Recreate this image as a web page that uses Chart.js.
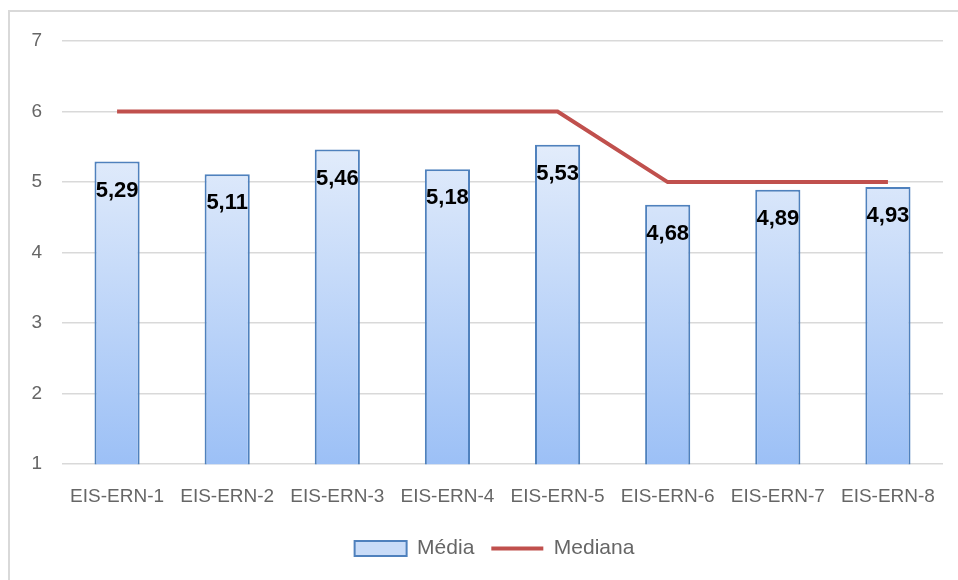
<!DOCTYPE html>
<html>
<head>
<meta charset="utf-8">
<script src="https://cdn.jsdelivr.net/npm/chart.js@4/dist/chart.umd.min.js"></script>
<style>
  body { margin: 0; background: #fff; }
  #frame { position: absolute; left: 8px; top: 10px; width: 960px; height: 580px;
           border-left: 2px solid #d9d9d9; border-top: 2px solid #d9d9d9; }
  #wrap { position: absolute; left: 0; top: 0; width: 958px; height: 580px; }
</style>
</head>
<body>
<div id="frame"></div>
<div id="wrap"><canvas id="mediaChart" width="958" height="580"></canvas></div>
<script>
const categories = ["EIS-ERN-1", "EIS-ERN-2", "EIS-ERN-3", "EIS-ERN-4", "EIS-ERN-5", "EIS-ERN-6", "EIS-ERN-7", "EIS-ERN-8"];
const media = [5.29, 5.11, 5.46, 5.18, 5.53, 4.68, 4.89, 4.93];
const mediana = [6, 6, 6, 6, 6, 5, 5, 5];
const yTicks = [1, 2, 3, 4, 5, 6, 7];

const FONT = "'Liberation Sans', Arial, sans-serif";

// bar fill: light on top, deeper blue at the base
function barGradient(context) {
    const chart = context.chart;
    const area = chart.chartArea;
    if (!area) return '#c6dbf8';
    const y = chart.scales.y;
    const g = chart.ctx.createLinearGradient(0, y.getPixelForValue(5.5), 0, area.bottom);
    g.addColorStop(0, '#e2ecfb');
    g.addColorStop(1, '#9cc0f6');
    return g;
}

// value labels inside the top of each bar, comma decimals
const barLabels = {
    id: 'barLabels',
    afterDatasetsDraw(chart) {
        const ctx = chart.ctx;
        const meta = chart.getDatasetMeta(0);
        ctx.save();
        ctx.font = "bold 22px " + FONT;
        ctx.fillStyle = '#000';
        ctx.textAlign = 'center';
        ctx.textBaseline = 'middle';
        meta.data.forEach((bar, i) => {
            ctx.fillText(media[i].toFixed(2).replace('.', ','), bar.x, bar.y + 29);
        });
        ctx.restore();
    }
};

// legend sits a bit right of the plot centre in the original
const legendShift = {
    id: 'legendShift',
    afterLayout(chart) {
        chart.legend.left += 23;
        chart.legend.right += 23;
    }
};

const ctx = document.getElementById('mediaChart').getContext('2d');
const mediaChart = new Chart(ctx, {
    type: 'bar',
    data: {
        labels: categories,
        datasets: [{
            label: 'Média',
            data: media,
            backgroundColor: barGradient,
            borderColor: '#4f81bd',
            borderWidth: 2,
            borderSkipped: false,
            barPercentage: 0.41,
            categoryPercentage: 1,
            pointStyle: 'rect'
        }, {
            type: 'line',
            label: 'Mediana',
            data: mediana,
            borderColor: '#c0504d',
            backgroundColor: '#c0504d',
            borderWidth: 4,
            pointRadius: 0,
            tension: 0,
            fill: false,
            pointStyle: 'line'
        }]
    },
    options: {
        responsive: false,
        animation: false,
        devicePixelRatio: 1,
        layout: { padding: { top: 41, right: 15, left: 0, bottom: 11 } },
        plugins: {
            tooltip: { enabled: false },
            legend: {
                position: 'bottom',
                labels: {
                    usePointStyle: true,
                    pointStyleWidth: 52,
                    boxHeight: 15,
                    padding: 17,
                    color: '#666',
                    font: { family: FONT, size: 21 },
                    generateLabels(chart) {
                        const items = Chart.defaults.plugins.legend.labels.generateLabels(chart);
                        items[0].fillStyle = '#c9dcf8';
                        items[0].strokeStyle = '#4f81bd';
                        items[0].lineWidth = 2;
                        items[1].strokeStyle = '#c0504d';
                        items[1].lineWidth = 4;
                        return items;
                    }
                }
            }
        },
        scales: {
            x: {
                grid: { display: false },
                border: { display: false },
                ticks: { color: '#666', font: { family: FONT, size: 19 }, padding: 13, maxRotation: 0 }
            },
            y: {
                min: 1,
                max: 7,
                afterBuildTicks(scale) { scale.ticks = yTicks.map(v => ({ value: v })); },
                afterFit(scale) { scale.width = 62; },
                grid: { color: '#d9d9d9', lineWidth: 1.5, drawTicks: false },
                border: { display: false },
                ticks: { color: '#666', font: { family: FONT, size: 19 }, padding: 20 }
            }
        }
    },
    plugins: [barLabels, legendShift]
});
</script>
</body>
</html>
